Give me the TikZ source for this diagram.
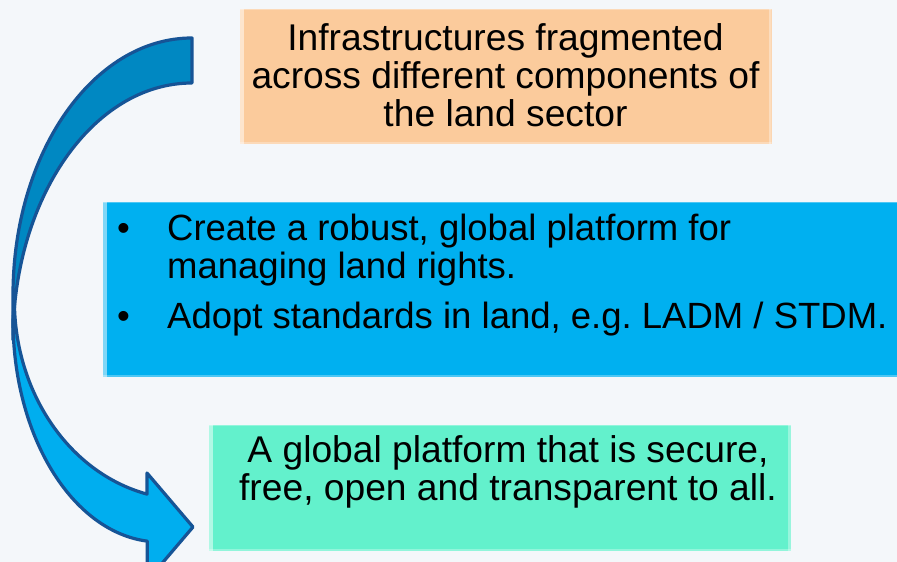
\documentclass[tikz,border=0pt]{standalone}
\usepackage{fontspec}
\setmainfont{Liberation Sans}
\usetikzlibrary{positioning}
\definecolor{slidebg}{RGB}{244,247,250}
\definecolor{peach}{RGB}{251,203,156}
\definecolor{skyblue}{RGB}{0,176,240}
\definecolor{aqua}{RGB}{99,241,204}
\definecolor{arrowback}{RGB}{0,136,194}
\definecolor{arrowfront}{RGB}{0,174,239}
\definecolor{arrowline}{RGB}{22,84,150}
\newcommand{\slidefont}{\fontsize{37.2}{38}\selectfont}
\newcommand{\bulletfont}{\fontsize{36.5}{38}\selectfont}
\frenchspacing

\begin{document}
\begin{tikzpicture}[x=1pt,y=1pt,
    panel/.style={inner sep=0pt, outer sep=0pt,
      path picture={
        \fill[white,opacity=.5] (path picture bounding box.north west) rectangle ([xshift=4pt]path picture bounding box.south west);
        \fill[white,opacity=.35] (path picture bounding box.north east) rectangle ([xshift=-3pt]path picture bounding box.south east);
        \fill[white,opacity=.3] (path picture bounding box.north west) rectangle ([yshift=-1.5pt]path picture bounding box.north east);
        \fill[white,opacity=.3] (path picture bounding box.south west) rectangle ([yshift=1.5pt]path picture bounding box.south east);}},
    words/.style={inner sep=0pt, font=\slidefont},
    arrowpart/.style={draw=arrowline, line width=3.2pt, line join=round}]
    \clip (0,0) rectangle (897,562);
    \fill[slidebg] (0,0) rectangle (897,562);

    %% the three boxes
    \node[panel, fill=peach, minimum width=532pt, minimum height=135pt] (problem) at (505.5,485.5) {};
    \node[panel, fill=skyblue, minimum width=800pt, minimum height=175pt] (action) at (503,272.5) {};
    \node[panel, fill=aqua, minimum width=582pt, minimum height=126pt] (result) at (500,74) {};

    %% texts
    \node[words, align=center, anchor=north] (problemtext) at (505.5,538.5)
      {Infrastructures fragmented\\across different components of\\the land sector};
    \node[words, font=\bulletfont, anchor=north west] (actiontext) at (117,348)
      {\begin{tabular}{@{}p{50pt}@{}l@{}}
        \textbullet & Create a robust, global platform for\\
                    & managing land rights.\\[12pt]
        \textbullet & Adopt standards in land, e.g.\ LADM / STDM.
      \end{tabular}};
    \node[words, align=center, anchor=north] (resulttext) at (508,126.5)
      {A global platform that is secure,\\free, open and transparent to all.};

    %% curved arrow, back face then front face
    \coordinate (arrowtop) at (192,524);
    \coordinate (arrowleft) at (13,242);
    \fill[arrowback, arrowpart] (arrowtop)
      arc[start angle=90, end angle=180, x radius=179pt, y radius=257pt]
      -- (13,222)
      arc[start angle=180, end angle=90, x radius=179pt, y radius=257pt] -- cycle;
    \fill[arrowfront, arrowpart] (arrowleft)
      arc[start angle=180, end angle=265.07, x radius=147pt, y radius=222pt]
      -- (147,-19) -- (193,35) -- (147,89) -- (147,67.9)
      arc[start angle=256.76, end angle=180, x radius=172pt, y radius=199pt] -- cycle;
\end{tikzpicture}
\end{document}
